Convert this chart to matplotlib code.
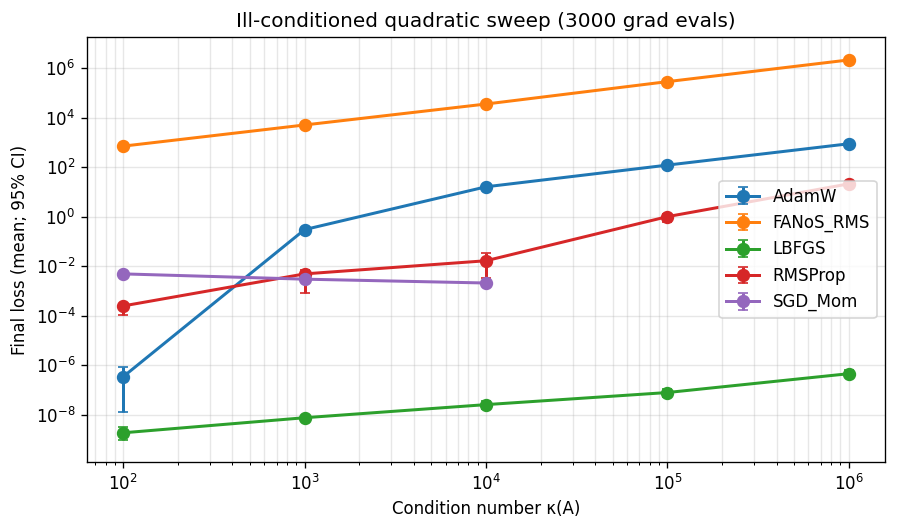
import numpy as np
import matplotlib
matplotlib.use("Agg")
import matplotlib.pyplot as plt

kappa = [1e2, 1e3, 1e4, 1e5, 1e6]

# mean, lower CI, upper CI per optimizer
adamw_mean = [3.5e-7, 0.30, 16.0, 120.0, 870.0]
adamw_lo = [1.3e-8, 0.26, 12.5, 108.0, 810.0]
adamw_hi = [8.7e-7, 0.35, 19.0, 132.0, 930.0]

fanos_mean = [700.0, 5000.0, 35000.0, 2.8e5, 2.1e6]
fanos_lo = [660.0, 4700.0, 33000.0, 2.65e5, 2.0e6]
fanos_hi = [740.0, 5300.0, 37000.0, 2.95e5, 2.2e6]

lbfgs_mean = [1.9e-9, 7.7e-9, 2.6e-8, 8.0e-8, 4.6e-7]
lbfgs_lo = [1.0e-9, 6.6e-9, 1.8e-8, 5.5e-8, 3.3e-7]
lbfgs_hi = [3.3e-9, 8.9e-9, 3.5e-8, 1.15e-7, 6.2e-7]

rms_mean = [2.5e-4, 4.9e-3, 0.0166, 1.0, 21.0]
rms_lo = [1.1e-4, 8.5e-4, 3.4e-3, 0.62, 19.0]
rms_hi = [3.0e-4, 7.0e-3, 0.035, 1.3, 23.0]

sgd_kappa = [1e2, 1e3, 1e4]
sgd_mean = [4.9e-3, 3.0e-3, 2.1e-3]
sgd_lo = [4.7e-3, 2.9e-3, 2.0e-3]
sgd_hi = [5.1e-3, 3.1e-3, 2.2e-3]

series = [
    ("AdamW", kappa, adamw_mean, adamw_lo, adamw_hi),
    ("FANoS_RMS", kappa, fanos_mean, fanos_lo, fanos_hi),
    ("LBFGS", kappa, lbfgs_mean, lbfgs_lo, lbfgs_hi),
    ("RMSProp", kappa, rms_mean, rms_lo, rms_hi),
    ("SGD_Mom", sgd_kappa, sgd_mean, sgd_lo, sgd_hi),
]

fig = plt.figure(figsize=(897 / 120, 528 / 120), dpi=120)
ax = fig.add_subplot(111)
fig.subplots_adjust(left=0.097, right=0.9866, top=0.930, bottom=0.125)

for name, xs, m, lo, hi in series:
    m = np.array(m)
    err = np.vstack([m - np.array(lo), np.array(hi) - m])
    ax.errorbar(xs, m, yerr=err, marker="o", ms=7, lw=1.8, capsize=3, label=name)

ax.set_xscale("log")
ax.set_yscale("log")
ax.set_ylim(10 ** -9.9, 10 ** 7.25)
ax.set_xlabel("Condition number κ(A)")
ax.set_ylabel("Final loss (mean; 95% CI)")
ax.set_title("Ill-conditioned quadratic sweep (3000 grad evals)")
ax.grid(True, which="both", alpha=0.3)
ax.legend(loc="center right")

fig.savefig("out.png", dpi=120)
